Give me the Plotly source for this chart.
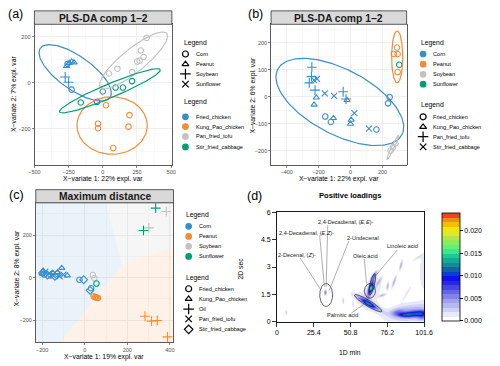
import numpy as np
import plotly.graph_objects as go

W, H = 500, 366
FONT = "Liberation Sans, Arial, sans-serif"
BLUE, ORANGE, GRAY, GREEN = "#388ECC", "#F68B33", "#C2C2C2", "#009E73"

# ---------------- (a) PLS-DA: colour = dish, shape = oil ----------------
a_dish = (["Fried_chicken"] * 9 + ["Pan_fried_tofu"] * 8 +
          ["Stir_fried_cabbage"] * 5 + ["Kung_Pao_chicken"] * 6)
a_oil = (["Peanut"] * 4 + ["Corn"] * 3 + ["Soybean"] * 2 + ["Corn"] * 8 +
         ["Corn"] * 5 + ["Corn"] * 6)
a_x = [-265, -245, -228, -210, -258, -228, 0, -275, -250,
       320, 278, 298, 270, 252, 216, 107, 45,
       -161, -43, 93, 147, 214,
       24, -35, -35, 195, 188, 76]
a_y = [72, 86, 92, 88, 82, -30, -38, 25, 2,
       195, 140, 112, 96, 92, 46, 61, 40,
       -86, -83, -21, -21, 7,
       -98, -178, -198, -141, -191, -284]
a_ell_group = ["Fried_chicken", "Kung_Pao_chicken", "Pan_fried_tofu", "Stir_fried_cabbage"]
a_ell_cx = [-202, 68, 225, 52]
a_ell_cy = [43, -186, 97, -35]
a_ell_ux = [255, 257, 243, 368]
a_ell_uy = [-107, 0, 117, 92]
a_ell_vx = [69, 0, 53, 19]
a_ell_vy = [60, 125, -40, -28]

# ---------------- (b) PLS-DA: colour = oil, shape = dish ----------------
b_oil = ["Corn"] * 23 + ["Peanut"] * 4 + ["Sunflower"] + ["Soybean"] * 3
b_dish = (["Pan_fried_tofu"] * 6 + ["Stir_fried_cabbage"] * 6 +
          ["Kung_Pao_chicken"] * 6 + ["Fried_chicken"] * 5 +
          ["Fried_chicken"] * 4 + ["Fried_chicken"] + ["Fried_chicken"] * 3)
b_x = [-242, -244, -258, -222, -46, -28,
       -210, -228, -161, -103, 24, 115,
       -214, -228, -107, -22, 4, 0,
       -158, -123, 162, 245, 235,
       291, 295, 271, 295,
       305,
       281, 266, 251]
b_y = [110, 75, 52, 25, 19, -8,
       67, 62, 13, 4, -60, -118,
       -3, -29, -79, -12, -85, -100,
       -73, -93, -121, -1, -24,
       183, 159, 159, 92,
       119,
       -172, -186, -199]
b_ell_group = ["Corn", "Peanut", "Soybean"]
b_ell_cx = [-67, 292, 265]
b_ell_cy = [-19, 148, -187]
b_ell_ux = [389, 35, 36]
b_ell_uy = [-121, 0, 45]
b_ell_vx = [-93, 0, 8]
b_ell_vy = [-107, 96, -2.4]

# ---------------- (c) maximum distance: colour = oil, shape = dish ----------------
c_oil = (["Corn"] * 21 + ["Peanut"] * 5 + ["Soybean"] * 2 + ["Sunflower"] +
         ["Peanut"] * 4 + ["Soybean"] * 2 + ["Sunflower"] * 2)
c_dish = (["Fried_chicken"] * 5 + ["Stir_fried_cabbage"] * 5 + ["Pan_fried_tofu"] * 5 +
          ["Kung_Pao_chicken"] * 6 + ["Fried_chicken"] * 5 + ["Fried_chicken"] * 2 +
          ["Fried_chicken"] + ["Oil"] * 8)
c_x = [-190, -160, -130, -25, 30,
       -198, -175, -140, -5, 25,
       -185, -168, -118, -100, -150,
       -195, -150, -108, -82, -128, -200,
       42, 48, 53, 58, 62,
       38, 45,
       55,
       283, 314, 341, 389,
       383, 301,
       333, 276]
c_y = [15, 10, 18, -10, -50,
       22, 12, 6, -10, -60,
       28, 20, 6, 14, 12,
       32, 22, 45, 10, 25, 18,
       -88, -92, -93, -95, -96,
       12, -3,
       -28,
       -182, -205, -202, -279,
       311, 234,
       327, 222]
c_region = ["Corn", "Soybean", "Peanut"]
c_region_x = [[-230, 98, 174, -114, -230], [98, 417, 417, 174], [174, 417, 417, -114]]
c_region_y = [[352, 352, 61, -305, -305], [352, 352, 142, 61], [61, 142, -305, -305]]

# ---------------- (d) positive loadings (peaks) ----------------
d_pk_x = [63.0, 64.0, 63.0, 65.0, 65.2, 67.3, 65.5, 93.0, 88.0, 96.5, 100.5, 101.0,
          85.7, 81.0, 76.5, 70.5, 73.0, 33.5, 6.5, 45.8, 52.5, 97.0, 90.0, 83.0]
d_pk_y = [1.02, 0.93, 1.0, 1.9, 1.83, 2.55, 1.7, 0.5, 0.38, 0.45, 0.3, 2.7,
          3.1, 2.2, 1.95, 2.2, 1.45, 1.6, 0.5, 1.15, 0.95, 3.5, 1.6, 0.55]
d_pk_h = [0.0065, 0.004, 0.002, 0.008, 0.007, 0.004, 0.0018, 0.0042, 0.006, 0.0065, 0.004, 0.0018,
          0.004, 0.004, 0.0035, 0.003, 0.003, 0.006, 0.003, 0.003, 0.002, 0.002, 0.002, 0.003]
d_pk_smaj = [9.0, 4.0, 13, 7.5, 2.0, 3.5, 12, 17, 6, 8, 4, 15,
             4, 5, 3, 4, 3, 2.0, 2.0, 2.5, 2, 5, 6, 5]
d_pk_smin = [1.6, 1.2, 4, 1.6, 1.2, 1.2, 7, 6.5, 1.6, 2.0, 3, 3,
             0.9, 0.9, 0.9, 0.9, 1.0, 0.9, 0.7, 0.7, 0.8, 1.0, 1.0, 2.0]
d_pk_ang = [-30, -30, -30, 73, 73, 55, 60, 8, 0, 5, 0, 90,
            75, 70, 80, 60, 20, 90, 90, 90, 90, 30, 60, 10]
d_levels = [0.0, 0.005, 0.010, 0.015, 0.020]
d_band_colors = ["#FFFFFF", "#E8E8F8", "#D0D0F4", "#B8B8F0", "#A0A0EC", "#8282E8",
                 "#6464E4", "#4646E0", "#2828E0", "#1010E8", "#0A3CD2", "#0F64AA",
                 "#148C96", "#14A896", "#1EC896", "#3CE68C", "#64F078", "#8CEB5A",
                 "#B4E646", "#DCEB28", "#F5E600", "#F5BE00", "#F08C1E", "#E8461E"]
d_xticks = [0, 25.4, 50.8, 76.2, 101.6]
d_yticks = [0, 1.5, 3, 4.5, 6]
d_lab_text = ["2,4-Decadienal, (<i>E,E</i>)-", "2,4-Decadienal, (<i>E,Z</i>)-", "2-Undecenal",
              "2-Decenal, (<i>Z</i>)-", "Oleic acid", "Linoleic acid", "Palmitic acid"]
d_lab_x = [47.4, 20.1, 59.6, 13.9, 61.1, 86.4, 45.2]
d_lab_y = [5.46, 4.86, 4.59, 3.67, 3.58, 4.16, 0.39]
d_lead_x0 = [35.1, 29.5, 49.6, 16.1, 60.3, 83.1, 51.4]
d_lead_y0 = [5.28, 4.74, 4.42, 3.49, 3.44, 3.94, 0.48]
d_lead_x1 = [34.0, 32.8, 36.2, 30.1, 61.9, 67.4, 60.3]
d_lead_y1 = [1.92, 1.92, 1.73, 1.77, 2.09, 2.45, 0.97]
d_ell_cx = [34.0, 64.2, 65.8, 63.0]
d_ell_cy = [1.47, 1.69, 2.05, 1.02]
d_ell_ux = [4.45, 3.8, 1.65, 9.4]
d_ell_uy = [0.0, 0.0, 0.58, -0.45]
d_ell_vx = [0.0, 0.0, 1.6, -1.0]
d_ell_vy = [0.63, 0.4, -0.03, -0.14]

# ---------------- helpers ----------------
COL = {"Fried_chicken": BLUE, "Kung_Pao_chicken": ORANGE, "Pan_fried_tofu": GRAY,
       "Stir_fried_cabbage": GREEN, "Corn": BLUE, "Peanut": ORANGE, "Soybean": GRAY,
       "Sunflower": GREEN}
SYM_OIL = {"Corn": "circle-open", "Peanut": "triangle-up-open", "Soybean": "cross-thin-open",
           "Sunflower": "x-thin-open"}
SYM_DISH = {"Fried_chicken": "circle-open", "Kung_Pao_chicken": "triangle-up-open",
            "Pan_fried_tofu": "cross-thin-open", "Stir_fried_cabbage": "x-thin-open"}
SYM_DISH_C = {"Fried_chicken": "circle-open", "Kung_Pao_chicken": "triangle-up-open",
              "Oil": "cross-thin-open", "Pan_fried_tofu": "x-thin-open",
              "Stir_fried_cabbage": "diamond-open"}
SIZE = {"circle-open": 5.5, "triangle-up-open": 5.5, "cross-thin-open": 7,
        "x-thin-open": 6, "diamond-open": 6}


def px(x):
    return x / W


def py(y):
    return 1 - y / H


fig = go.Figure()


def add_points(xs, ys, colkeys, symkeys, symmap, ax, ay, scale=1.0):
    groups = {}
    for x, y, c, s in zip(xs, ys, colkeys, symkeys):
        groups.setdefault((c, s), []).append((x, y))
    for (c, s), pts in groups.items():
        sym = symmap[s]
        fig.add_trace(go.Scatter(
            x=[p[0] for p in pts], y=[p[1] for p in pts], mode="markers",
            xaxis=ax, yaxis=ay, showlegend=False, hoverinfo="skip",
            marker=dict(symbol=sym, size=SIZE[sym] * scale, color=COL[c],
                        line=dict(width=1.1, color=COL[c]))))


def add_ellipses(groups, cx, cy, ux, uy, vx, vy, ax, ay, colors=None, width=1.2):
    t = np.linspace(0, 2 * np.pi, 160)
    for i, g in enumerate(groups):
        ex = cx[i] + ux[i] * np.cos(t) + vx[i] * np.sin(t)
        ey = cy[i] + uy[i] * np.cos(t) + vy[i] * np.sin(t)
        col = colors[i] if colors else COL[g]
        fig.add_trace(go.Scatter(x=ex, y=ey, mode="lines", xaxis=ax, yaxis=ay,
                                 showlegend=False, hoverinfo="skip",
                                 line=dict(color=col, width=width)))


# (c) background regions
RFILL = {"Corn": "rgba(52,130,210,0.10)", "Soybean": "rgba(170,170,170,0.10)",
         "Peanut": "rgba(245,130,30,0.10)"}
for name, rx, ry in zip(c_region, c_region_x, c_region_y):
    fig.add_trace(go.Scatter(x=rx + [rx[0]], y=ry + [ry[0]], mode="lines", fill="toself",
                             fillcolor=RFILL[name], line=dict(width=0),
                             xaxis="x3", yaxis="y3", showlegend=False, hoverinfo="skip"))

add_points(a_x, a_y, a_dish, a_oil, SYM_OIL, "x", "y")
add_ellipses(a_ell_group, a_ell_cx, a_ell_cy, a_ell_ux, a_ell_uy, a_ell_vx, a_ell_vy, "x", "y")
add_points(b_x, b_y, b_oil, b_dish, SYM_DISH, "x2", "y2")
add_ellipses(b_ell_group, b_ell_cx, b_ell_cy, b_ell_ux, b_ell_uy, b_ell_vx, b_ell_vy, "x2", "y2")
add_points(c_x, c_y, c_oil, c_dish, SYM_DISH_C, "x3", "y3", scale=1.0)

# (d) contour
PXX = 151.7 / 101.6
PXY = 111.7 / 6.0
gx = np.linspace(0, 101.6, 230)
gy = np.linspace(0, 6, 170)
GX, GY = np.meshgrid(gx, gy)
Z = np.zeros_like(GX)
for x0, y0, h, sa, sb, ang in zip(d_pk_x, d_pk_y, d_pk_h, d_pk_smaj, d_pk_smin, d_pk_ang):
    th = np.radians(ang)
    dxp = (GX - x0) * PXX
    dyp = (GY - y0) * PXY
    a = dxp * np.cos(th) + dyp * np.sin(th)
    b = -dxp * np.sin(th) + dyp * np.cos(th)
    Z += h * np.exp(-0.5 * (a / sa) ** 2 - 0.5 * (b / sb) ** 2)

nb = len(d_band_colors)
cscale = [[0.0, d_band_colors[0]]]
for i, c in enumerate(d_band_colors):
    cscale.append([(i + 0.5) / nb, c])
cscale.append([1.0, d_band_colors[-1]])

fig.add_trace(go.Contour(
    x=gx, y=gy, z=Z, xaxis="x4", yaxis="y4", zmin=0, zmax=0.024,
    autocontour=False, contours=dict(start=0, end=0.024, size=0.001, coloring="fill",
                                     showlines=False),
    line=dict(width=0), colorscale=cscale, hoverinfo="skip",
    colorbar=dict(x=px(449.3), xanchor="left", y=py(267.7), yanchor="middle",
                  len=110 / H, lenmode="fraction", thickness=18, thicknessmode="pixels",
                  xpad=0, ypad=0, outlinecolor="black", outlinewidth=0.8,
                  tickvals=d_levels, ticktext=["%.3f" % v for v in d_levels],
                  ticks="outside", ticklen=3, tickcolor="black",
                  tickfont=dict(size=7, color="black", family=FONT))))

add_ellipses(["e"] * 4, d_ell_cx, d_ell_cy, d_ell_ux, d_ell_uy, d_ell_vx, d_ell_vy,
             "x4", "y4", colors=["#222222"] * 4, width=0.7)
for x0, y0, x1, y1 in zip(d_lead_x0, d_lead_y0, d_lead_x1, d_lead_y1):
    fig.add_trace(go.Scatter(x=[x0, x1], y=[y0, y1], mode="lines", xaxis="x4", yaxis="y4",
                             showlegend=False, hoverinfo="skip",
                             line=dict(color="#777777", width=0.6)))

annotations = []
for t, x, y in zip(d_lab_text, d_lab_x, d_lab_y):
    annotations.append(dict(text=t, x=x, y=y, xref="x4", yref="y4", showarrow=False,
                            font=dict(size=5.6, color="#222222", family=FONT)))

# ---------------- axes ----------------


def gg_axis(domain, rng, dtick, mdtick, anchor, **kw):
    d = dict(domain=domain, range=rng, anchor=anchor, tickmode="linear", tick0=0, dtick=dtick,
             showgrid=True, gridcolor="#EBEBEB", gridwidth=0.8,
             minor=dict(dtick=mdtick, showgrid=True, gridcolor="#F3F3F3", gridwidth=0.5),
             zeroline=False, showline=True, mirror=True, linecolor="#333333", linewidth=0.8,
             ticks="outside", ticklen=2, tickwidth=0.6, tickcolor="#333333",
             tickfont=dict(size=5.5, color="#4D4D4D", family=FONT), fixedrange=True)
    d.update(kw)
    return d


layout = dict(
    width=W, height=H, margin=dict(l=0, r=0, t=0, b=0),
    paper_bgcolor="white", plot_bgcolor="rgba(0,0,0,0)", showlegend=False,
    font=dict(family=FONT),
    xaxis=gg_axis([px(29.3), px(171)], [-500, 505], 250, 125, "y"),
    yaxis=gg_axis([py(164), py(20.7)], [-357, 254], 200, 100, "x"),
    xaxis2=gg_axis([px(273.3), px(413)], [-497, 351], 200, 100, "y2"),
    yaxis2=gg_axis([py(164), py(20.7)], [-252, 269], 100, 50, "x2"),
    xaxis3=gg_axis([px(30.7), px(172.7)], [-230, 417], 200, 100, "y3"),
    yaxis3=gg_axis([py(345), py(202.7)], [-305, 352], 200, 100, "x3"),
    xaxis4=dict(domain=[px(279.3), px(431)], range=[0, 101.6], anchor="y4",
                tickmode="array", tickvals=d_xticks, ticktext=["0", "25.4", "50.8", "76.2", "101.6"],
                showgrid=False, zeroline=False, showline=True, mirror=True, linecolor="black",
                linewidth=0.9, ticks="outside", ticklen=4, tickcolor="black", tickwidth=0.8,
                tickfont=dict(size=7, color="black", family=FONT), fixedrange=True),
    yaxis4=dict(domain=[py(324), py(212.3)], range=[0, 6], anchor="x4",
                tickmode="array", tickvals=d_yticks, ticktext=["0", "1.5", "3", "4.5", "6"],
                showgrid=False, zeroline=False, showline=True, mirror=True, linecolor="black",
                linewidth=0.9, ticks="outside", ticklen=4, tickcolor="black", tickwidth=0.8,
                tickfont=dict(size=7, color="black", family=FONT), fixedrange=True),
    xaxis5=dict(domain=[0, 1], range=[0, W], visible=False, fixedrange=True, anchor="y5"),
    yaxis5=dict(domain=[0, 1], range=[H, 0], visible=False, fixedrange=True, anchor="x5"),
)


def ann(text, x, y, size, color="black", bold=False, xanchor="center", angle=0):
    t = "<b>%s</b>" % text if bold else text
    annotations.append(dict(text=t, x=px(x), y=py(y), xref="paper", yref="paper",
                            showarrow=False, xanchor=xanchor, yanchor="middle",
                            textangle=angle, font=dict(size=size, color=color, family=FONT)))


# panel letters
ann("(a)", 10, 10, 12.5)
ann("(b)", 257, 10, 12.5)
ann("(c)", 11, 195, 12.5)
ann("(d)", 256, 196, 12.5)

# strips
shapes = []
for x0, x1, y0, y1, title in [(29.3, 171, 7, 20.7, "PLS-DA comp 1\u22122"),
                              (273.3, 413, 7, 20.7, "PLS-DA comp 1\u22122"),
                              (30.7, 172.7, 189.3, 202.7, "Maximum distance")]:
    shapes.append(dict(type="rect", xref="paper", yref="paper", x0=px(x0), x1=px(x1),
                       y0=py(y1), y1=py(y0), fillcolor="#D9D9D9",
                       line=dict(color="#333333", width=0.8)))
    ann(title, (x0 + x1) / 2, (y0 + y1) / 2 + 0.5, 10.3, color="#1A1A1A", bold=True)

# axis titles
ann("X\u2212variate 1: 22% expl. var", 100, 178.3, 6.8)
ann("X\u2212variate 2: 7% expl. var", 8, 92, 6.8, angle=-90)
ann("X\u2212variate 1: 22% expl. var", 343, 178.3, 6.8)
ann("X\u2212variate 2: 6% expl. var", 255, 93, 6.8, angle=-90)
ann("X\u2212variate 1: 19% expl. var", 101, 360, 6.8)
ann("X\u2212variate 2: 8% expl. var", 11, 270, 6.8, angle=-90)
ann("<b>Positive loadings</b>", 355, 195, 7.6)
ann("1D min", 355, 355, 6.8)
ann("2D sec", 242, 270, 6.8, angle=-90)


# legends (drawn on a full-page helper axis)
def legend_block(x_title, x_mark, x_text, y_title, items):
    ann("Legend", x_title, y_title, 6.8, xanchor="left")
    for (label, sym, col, size, y) in items:
        fig.add_trace(go.Scatter(x=[x_mark], y=[y], mode="markers", xaxis="x5", yaxis="y5",
                                 showlegend=False, hoverinfo="skip",
                                 marker=dict(symbol=sym, size=size, color=col,
                                             line=dict(width=1.2, color=col))))
        ann(label, x_text, y, 5.6, xanchor="left")


oils = ["Corn", "Peanut", "Soybean", "Sunflower"]
dishes = ["Fried_chicken", "Kung_Pao_chicken", "Pan_fried_tofu", "Stir_fried_cabbage"]
dishes_c = ["Fried_chicken", "Kung_Pao_chicken", "Oil", "Pan_fried_tofu", "Stir_fried_cabbage"]

legend_block(181, 185, 193.5, 40,
             [(o, SYM_OIL[o], "black", SIZE[SYM_OIL[o]] + 0.5, y)
              for o, y in zip(oils, [51, 61.3, 71.3, 81.7])])
legend_block(181, 185, 193.5, 100,
             [(d, "circle", COL[d], 5.5, y) for d, y in zip(dishes, [115, 125, 135, 145.7])])
legend_block(426, 430, 438.5, 40,
             [(o, "circle", COL[o], 5.5, y) for o, y in zip(oils, [51, 61.3, 71.7, 81.7])])
legend_block(426, 430, 438.5, 103.3,
             [(d, SYM_DISH[d], "black", SIZE[SYM_DISH[d]] + 0.5, y)
              for d, y in zip(dishes, [115, 125.3, 135.3, 145.7])])
legend_block(183.3, 188.3, 196.5, 215,
             [(o, "circle", COL[o], 5.5, y) for o, y in zip(oils, [226.7, 237, 247, 257.3])])
legend_block(183.3, 188.3, 196.5, 279,
             [(d, SYM_DISH_C[d], "black", SIZE[SYM_DISH_C[d]] + 0.5, y)
              for d, y in zip(dishes_c, [290.3, 300.7, 311, 321, 331.7])])

layout["annotations"] = annotations
layout["shapes"] = shapes
fig.update_layout(**layout)
fig.write_html("out.html", config={"displayModeBar": False, "staticPlot": True},
               post_script="document.body.style.margin='0';document.body.style.overflow='hidden';")
